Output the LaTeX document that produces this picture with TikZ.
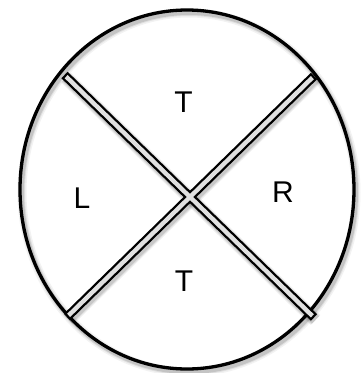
\documentclass[tikz,border=0pt]{standalone}
\usepackage{fontspec}
\setmainfont{Liberation Sans}
\begin{document}
\begin{tikzpicture}[x=1pt,y=-1pt,
  lbl/.style={font=\fontsize{30}{30}\selectfont, inner sep=0pt, anchor=center},
  rim/.style={draw=black, line width=3.3pt},
  barout/.style={draw=black, line width=9pt, line cap=butt},
  barin/.style={draw=black!12, line width=4.4pt, line cap=butt, shorten <=2.3pt, shorten >=2.3pt},
  shade/.style={draw=black, line cap=butt}]
\useasboundingbox (0,0) rectangle (360,373);
\coordinate (C) at (187,189.5);
\coordinate (a1) at (64.5,75);
\coordinate (a2) at (314,317.5);
\coordinate (b1) at (67,317);
\coordinate (b2) at (314,76);
% ellipse shadow
\foreach \w/\o in {9/0.05,6/0.08,4/0.12}
  \draw[shade, line width=\w pt, opacity=\o] ([shift={(2,3)}]C) ellipse [x radius=167pt, y radius=179.5pt];
\draw[rim] (C) ellipse [x radius=167pt, y radius=179.5pt];
% bar shadows
\foreach \w/\o in {14/0.05,12/0.08,10/0.1}{
  \draw[shade, line width=\w pt, opacity=\o] ([shift={(1.5,2.5)}]a1) -- ([shift={(1.5,2.5)}]a2);
  \draw[shade, line width=\w pt, opacity=\o] ([shift={(1.5,2.5)}]b1) -- ([shift={(1.5,2.5)}]b2);
}
% bars
\draw[barout] (a1) -- (a2);
\draw[barout] (b1) -- (b2);
\draw[barin] (a1) -- (a2);
\draw[barin] (b1) -- (b2);
% labels
\node[lbl] (tt) at (183.5,102) {T};
\node[lbl] (ll) at (82,198) {L};
\node[lbl] (rr) at (283,192) {R};
\node[lbl] (tb) at (184,281) {T};
\end{tikzpicture}
\end{document}
